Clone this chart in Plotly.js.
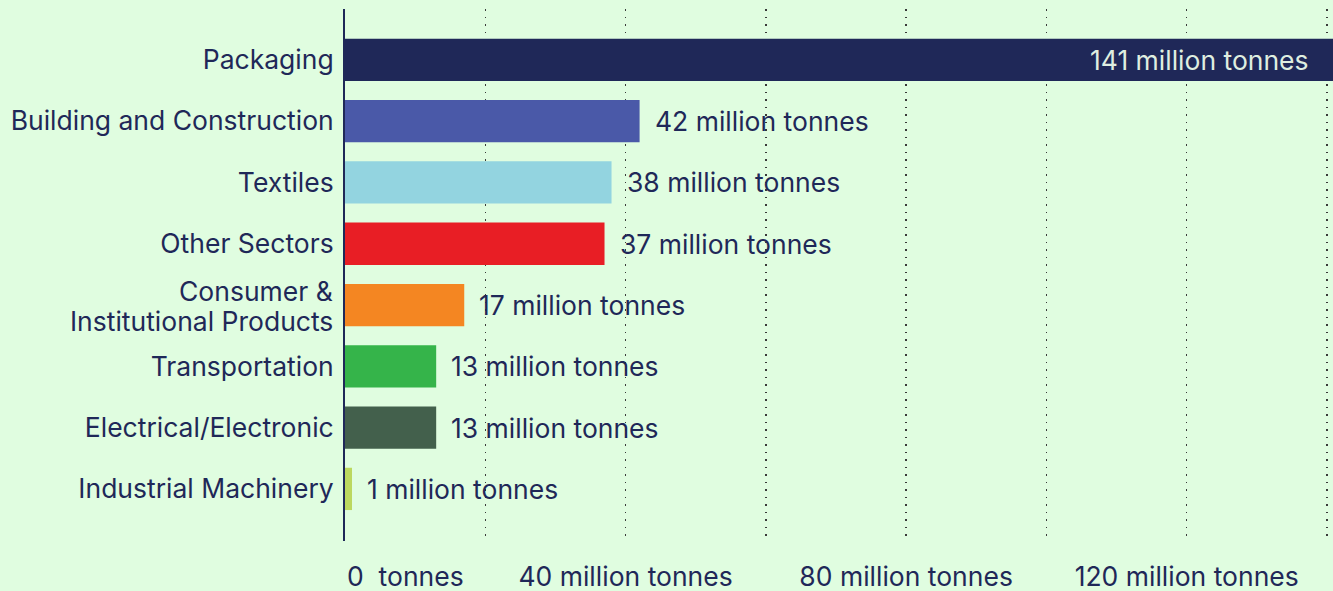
<!DOCTYPE html>
<html>
<head>
<meta charset="utf-8">
<script src="https://cdn.plot.ly/plotly-3.0.1.min.js"></script>
<style>html,body{margin:0;padding:0;background:#e0fde0;}#chart{width:1333px;height:591px;}</style>
</head>
<body>
<div id="chart"></div>
<script>
const categories = ["Packaging", "Building and Construction", "Textiles", "Other Sectors", "Consumer &<br>Institutional Products", "Transportation", "Electrical/Electronic", "Industrial Machinery"];
const values = [141, 42, 38, 37, 17, 13, 13, 1];
const valueLabels = ["141 million tonnes", "42 million tonnes", "38 million tonnes", "37 million tonnes", "17 million tonnes", "13 million tonnes", "13 million tonnes", "1 million tonnes"];
const barColors = ["#1f2858", "#4a59a8", "#93d4e0", "#e81e25", "#f48622", "#35b44a", "#43604c", "#bcd85f"];
const tickVals = [0, 20, 40, 60, 80, 100, 120, 140];
const tickText = ["", "", "40 million tonnes", "", "80 million tonnes", "", "120 million tonnes", ""];
const zeroLabel = "0  tonnes";

const navy = "#1f2858";
const fontFam = "Inter, 'Open Sans', sans-serif";
const fs = 26.5;
const xMax = 140.86;

const annotations = values.map((v, i) => {
  const inside = v > xMax * 0.8;
  return {
    x: Math.min(v, xMax), y: categories[i], xref: "x", yref: "y",
    text: valueLabels[i], showarrow: false,
    xanchor: inside ? "right" : "left",
    xshift: inside ? -22 : 13,
    font: {family: fontFam, size: fs, color: inside ? "#dfeee0" : navy}
  };
});
annotations.push({
  x: 0, y: 0, xref: "x", yref: "paper", text: zeroLabel, showarrow: false,
  xanchor: "left", yanchor: "top", yshift: -17,
  font: {family: fontFam, size: fs, color: navy}
});

// multi-line category labels drawn with tighter line spacing
const yTickText = categories.map(c => c.includes("<br>") ? "" : c);
categories.forEach(c => {
  if (!c.includes("<br>")) return;
  const lines = c.split("<br>");
  lines.forEach((ln, k) => {
    annotations.push({
      x: 0, xref: "paper", y: c, yref: "y", text: ln, showarrow: false,
      xanchor: "right", xshift: -11, yshift: 14 - k * 30,
      borderpad: 0,
      font: {family: fontFam, size: fs, color: navy}
    });
  });
});

Plotly.newPlot("chart", [{
  type: "bar", orientation: "h",
  x: values, y: categories,
  marker: {color: barColors},
  width: 0.69,
  hoverinfo: "none"
}], {
  width: 1333, height: 591,
  margin: {l: 345, r: 0, t: 9, b: 50},
  paper_bgcolor: "#e0fde0", plot_bgcolor: "#e0fde0",
  showlegend: false,
  font: {family: fontFam, size: fs, color: navy},
  xaxis: {
    range: [0, xMax], tickvals: tickVals, ticktext: tickText,
    showgrid: true, gridcolor: "#3a3a3a", griddash: "1.5px,6px", gridwidth: 1.5,
    zeroline: false, showline: false,
    ticks: "outside", ticklen: 12, tickcolor: "rgba(0,0,0,0)",
    tickfont: {family: fontFam, size: fs, color: navy}
  },
  yaxis: {
    range: [7.85, -0.83], type: "category",
    tickvals: categories, ticktext: yTickText,
    showgrid: false, zeroline: false,
    showline: true, linecolor: navy, linewidth: 2,
    ticks: "outside", ticklen: 4, tickcolor: "rgba(0,0,0,0)",
    tickfont: {family: fontFam, size: fs, color: navy}
  },
  annotations: annotations
}, {staticPlot: true});
</script>
</body>
</html>
